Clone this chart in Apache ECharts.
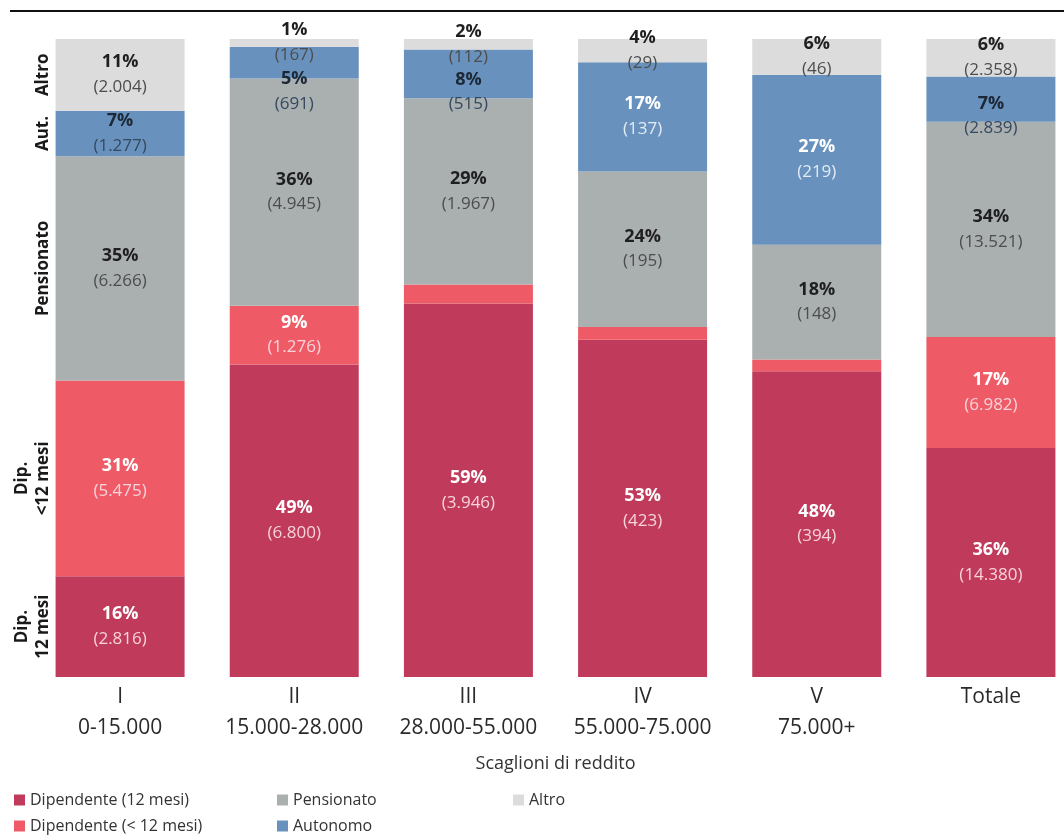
<!DOCTYPE html>
<html>
<head>
<meta charset="utf-8">
<script src="https://cdn.jsdelivr.net/npm/echarts@6/dist/echarts.min.js"></script>
<style>
  html, body { margin: 0; padding: 0; background: #ffffff; }
  #chart { width: 1064px; height: 835px; }
</style>
</head>
<body>
<div id="chart"></div>
<script>
// Income brackets (x axis)
const categories = ['I\n0-15.000', 'II\n15.000-28.000', 'III\n28.000-55.000', 'IV\n55.000-75.000', 'V\n75.000+', 'Totale'];

// Counts per worker type and bracket
const dip12      = [2816, 6800, 3946, 423, 394, 14380];
const dipUnder12 = [5475, 1276, 200, 16, 15, 6982];
const pensionato = [6266, 4945, 1967, 195, 148, 13521];
const autonomo   = [1277, 691, 515, 137, 219, 2839];
const altro      = [2004, 167, 112, 29, 46, 2358];

const seriesNames = ['Dipendente (12 mesi)', 'Dipendente (< 12 mesi)', 'Pensionato', 'Autonomo', 'Altro'];
const sideLabels  = ['Dip.\n12 mesi', 'Dip.\n<12 mesi', 'Pensionato', 'Aut.', 'Altro'];

const FONT = '"Open Sans", "Noto Sans", sans-serif';
const colors = ['#c03a5b', '#ee5b66', '#aaafb0', '#6892bd', '#dcdcdc'];
const counts = [dip12, dipUnder12, pensionato, autonomo, altro];

// column totals, and each segment as a share of its column
const totals = categories.map((_, j) => counts.reduce((s, arr) => s + arr[j], 0));
const shares = counts.map(arr => arr.map((v, j) => v / totals[j] * 100));

// label colour schemes per segment
const darkText  = { p: '#1f1f1f', c: '#4d4d4d' };
const blueDark  = { p: '#1c2836', c: '#34495f' };
const whiteText = { p: '#ffffff', c: '#f7d3da' };
const blueWhite = { p: '#ffffff', c: '#e3ebf4' };
function labelScheme(s, j) {
  if (s <= 1) return whiteText;
  if (s === 3) return (j === 3 || j === 4) ? blueWhite : blueDark;
  return darkText;
}
// segments too thin to carry a label
const unlabeled = { '1-2': true, '1-3': true, '1-4': true };
// labels nudged down so they clear the label above them
const labelShift = { '3-1': 29, '3-2': 18, '3-5': 17 };

function fmtCount(n) {
  return String(n).replace(/\B(?=(\d{3})+(?!\d))/g, '.');
}

const barSeries = counts.map((arr, s) => ({
  name: seriesNames[s],
  type: 'bar',
  stack: 'all',
  barWidth: 129,
  itemStyle: { color: colors[s] },
  emphasis: { disabled: true },
  data: arr.map((v, j) => {
    const sc = labelScheme(s, j);
    const key = s + '-' + j;
    return {
      value: shares[s][j],
      label: {
        show: !unlabeled[key],
        position: 'inside',
        offset: [0, labelShift[key] || 0],
        formatter: '{p|' + Math.round(shares[s][j]) + '%}\n{c|(' + fmtCount(v) + ')}',
        rich: {
          p: { fontFamily: FONT, fontSize: 18, fontWeight: 'bold', color: sc.p, lineHeight: 25 },
          c: { fontFamily: FONT, fontSize: 17, color: sc.c, lineHeight: 25 }
        }
      }
    };
  })
}));

// side labels at the middle of each segment of the first column
let acc = 0;
const sideData = shares.map((sh, s) => {
  const mid = acc + sh[0] / 2;
  acc += sh[0];
  return [0, mid, s];
});

const sideSeries = {
  type: 'custom',
  silent: true,
  encode: { x: 0, y: 1 },
  data: sideData,
  renderItem: function (params, api) {
    const p = api.coord([api.value(0), api.value(1)]);
    return {
      type: 'text',
      x: p[0] - 66,
      y: p[1],
      rotation: Math.PI / 2,
      style: {
        text: sideLabels[api.value(2)],
        textAlign: 'center',
        textVerticalAlign: 'bottom',
        fontFamily: FONT,
        fontSize: 17,
        fontWeight: 'bold',
        lineHeight: 21,
        fill: '#1a1a1a'
      }
    };
  }
};

const legendBase = {
  orient: 'vertical',
  top: 792,
  padding: 0,
  icon: 'rect',
  itemWidth: 11,
  itemHeight: 11,
  itemGap: 10,
  selectedMode: false,
  textStyle: { fontFamily: FONT, fontSize: 16, color: '#333333' }
};

const chart = echarts.init(document.getElementById('chart'), null, { renderer: 'canvas' });
chart.setOption({
  animation: false,
  backgroundColor: '#ffffff',
  graphic: [{
    type: 'line',
    shape: { x1: 10, y1: 11, x2: 1064, y2: 11 },
    style: { stroke: '#111111', lineWidth: 2 }
  }],
  grid: { left: 33, top: 39, width: 1045, height: 638, outerBoundsMode: 'none', containLabel: false },
  xAxis: {
    type: 'category',
    data: categories,
    axisLine: { show: false },
    axisTick: { show: false },
    axisLabel: { interval: 0, fontFamily: FONT, fontSize: 21, lineHeight: 31, color: '#2a2a2a', margin: 5 },
    name: 'Scaglioni di reddito',
    nameLocation: 'middle',
    nameGap: 78,
    nameTextStyle: { fontFamily: FONT, fontSize: 18, color: '#333333' }
  },
  yAxis: { type: 'value', min: 0, max: 100, show: false },
  legend: [
    Object.assign({}, legendBase, { left: 14, data: [seriesNames[0], seriesNames[1]] }),
    Object.assign({}, legendBase, { left: 277, data: [seriesNames[2], seriesNames[3]] }),
    Object.assign({}, legendBase, { left: 513, data: [seriesNames[4]] })
  ],
  series: barSeries.concat([sideSeries])
});
</script>
</body>
</html>
